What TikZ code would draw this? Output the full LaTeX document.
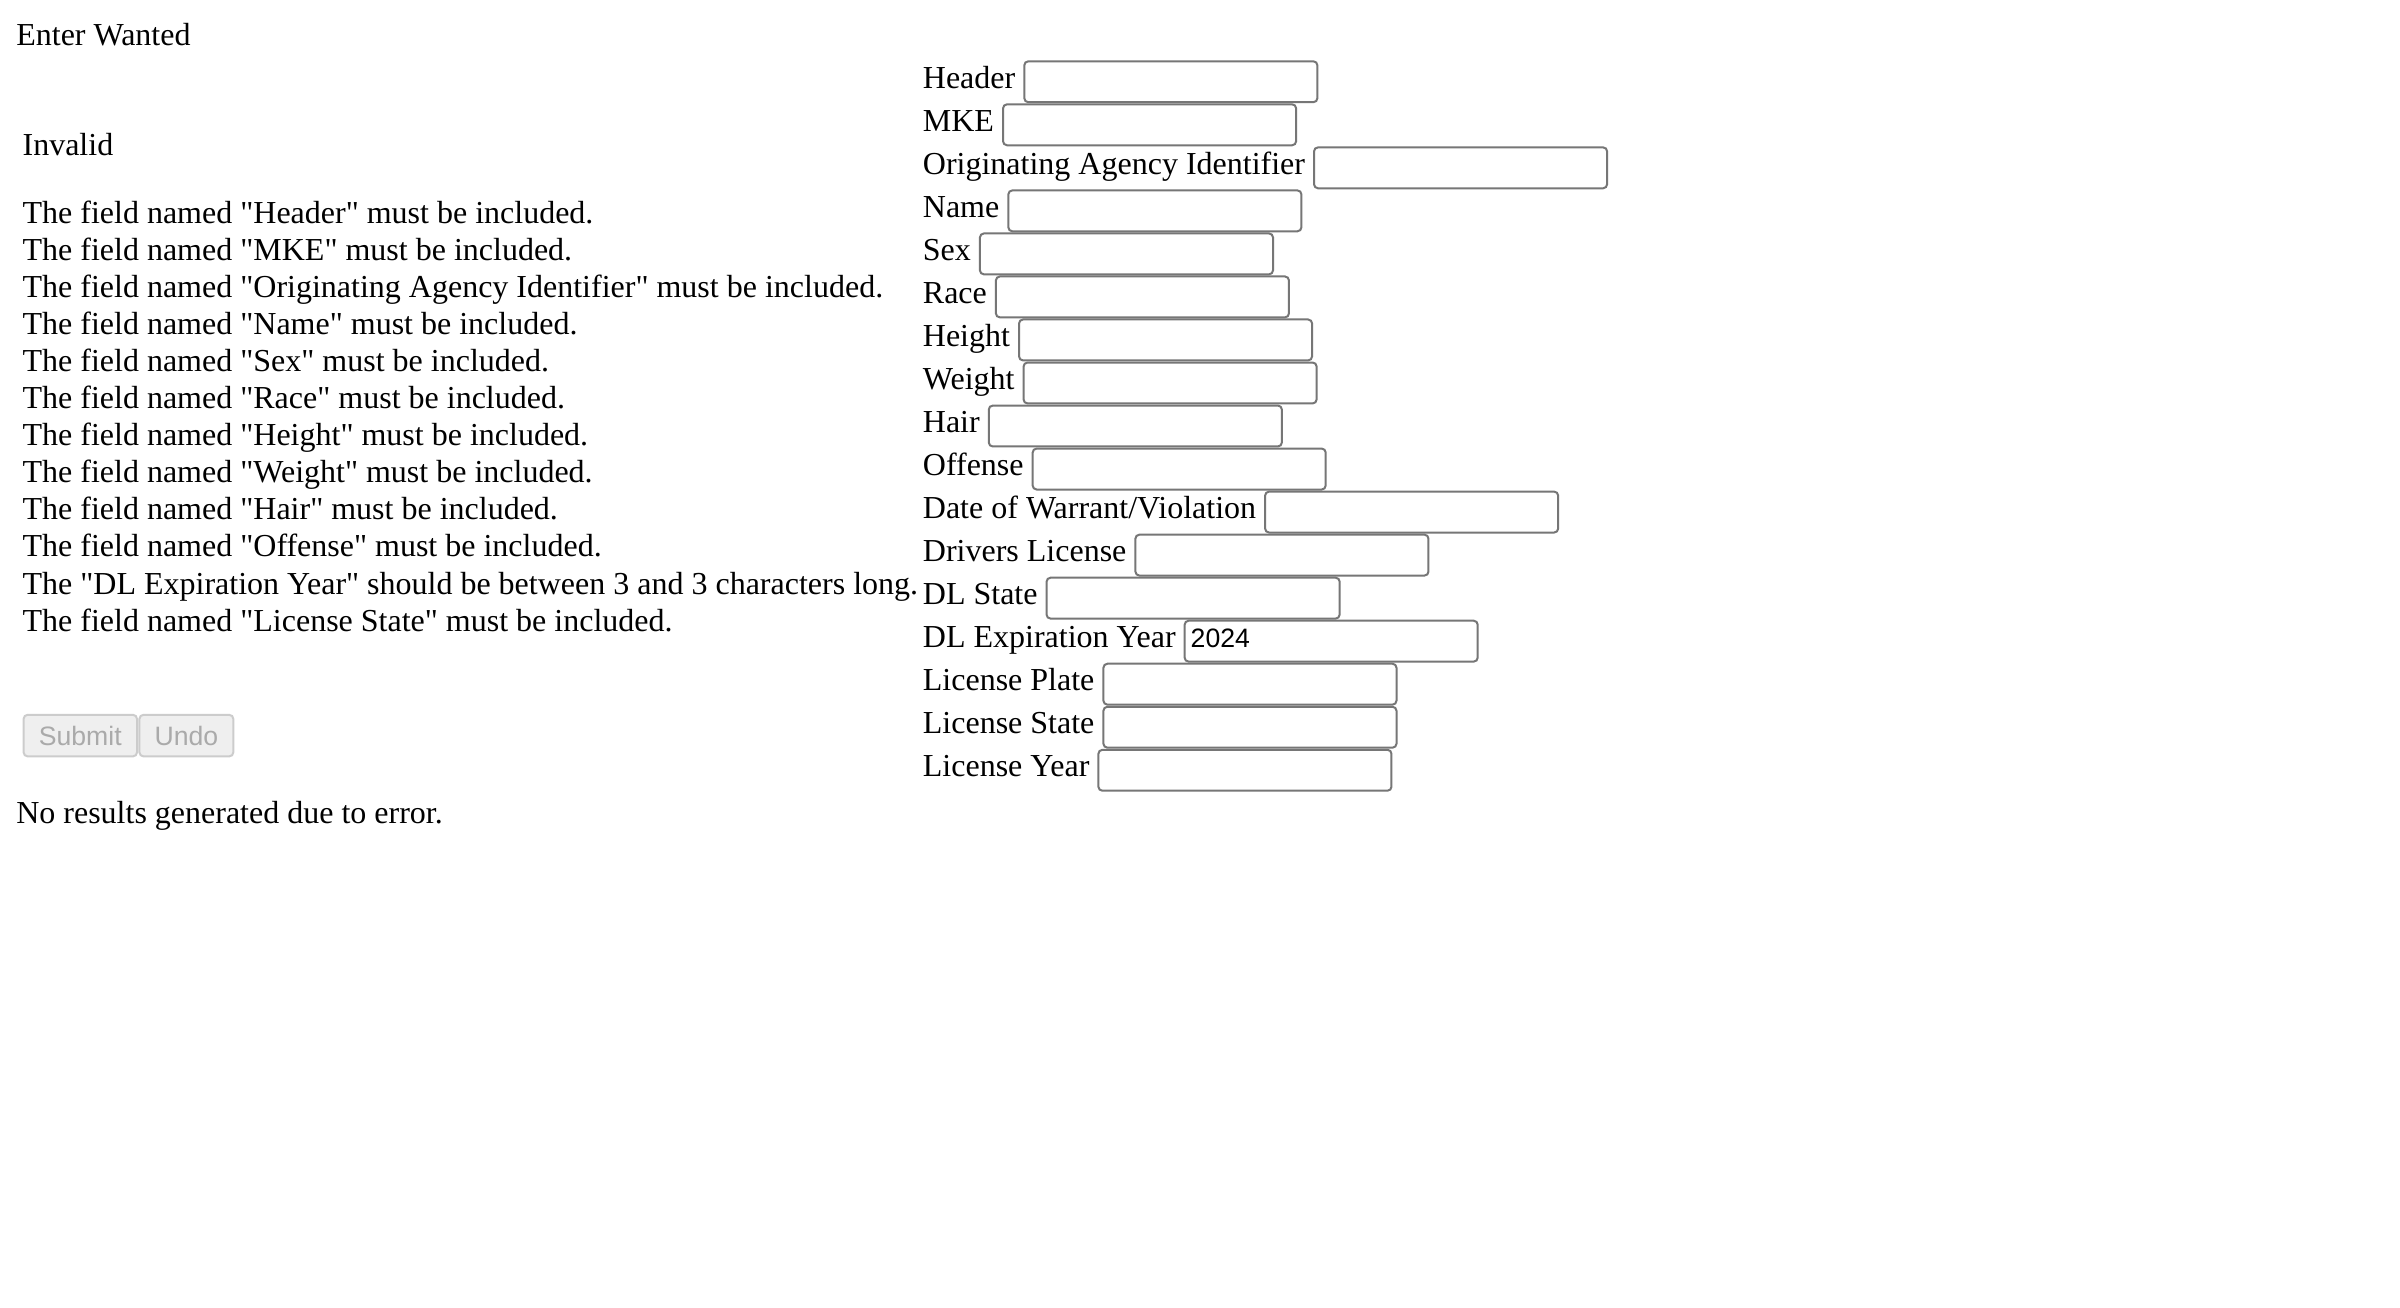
\documentclass[tikz,border=0pt]{standalone}
\usepackage{fontspec}
\setmainfont{Liberation Serif}[Ligatures=TeXOff]
\newfontfamily\uisans{Liberation Sans}[Ligatures=TeXOff]
\definecolor{boxline}{HTML}{767676}
\definecolor{btnfill}{HTML}{EFEFEF}
\definecolor{btnline}{HTML}{CCCCCC}
\definecolor{btntext}{HTML}{AAAAAA}
\tikzset{
  txt/.style={anchor=base west, inner sep=0pt, font=\fontsize{20.8}{24.2}\selectfont},
  field/.style={draw=boxline, line width=1.3pt, rounded corners=2.6pt, minimum width=190.5pt, minimum height=26.6pt, anchor=north west, inner sep=0pt},
  btn/.style={draw=btnline, fill=btnfill, line width=1.3pt, rounded corners=2.6pt, minimum height=27pt, anchor=north west, inner sep=0pt, text=btntext, font=\uisans\fontsize{17.3}{20}\selectfont},
  val/.style={anchor=base west, inner sep=0pt, font=\uisans\fontsize{17.3}{20}\selectfont}
}
\begin{document}
\begin{tikzpicture}[x=1pt,y=1pt]
\useasboundingbox[fill=white] (0,0) rectangle (1560,-850.2);
% left column
\node[txt] (title) at (10.4,-29.6) {Enter Wanted};
\node[txt] (invalid) at (14.5,-101.3) {Invalid};
\foreach \t [count=\i from 0] in {
  The field named "Header" must be included.,
  The field named "MKE" must be included.,
  The field named "Originating Agency Identifier" must be included.,
  The field named "Name" must be included.,
  The field named "Sex" must be included.,
  The field named "Race" must be included.,
  The field named "Height" must be included.,
  The field named "Weight" must be included.,
  The field named "Hair" must be included.,
  The field named "Offense" must be included.,
  The "DL Expiration Year" should be between 3 and 3 characters long.,
  The field named "License State" must be included.}
  \node[txt] (err\i) at (14.5,{-145.4-24.07*\i}) {\t};
\node[btn, minimum width=73.7pt] (submit) at (14.7,-464) {Submit};
\node[btn, minimum width=61pt] (undo) at (90,-464) {Undo};
\node[txt] (nores) at (10.4,-535.4) {No results generated due to error.};
% right column
\foreach \lab [count=\i from 0] in {
  Header, MKE, Originating Agency Identifier, Name, Sex,
  Race, Height, Weight, Hair, Offense,
  Date of Warrant\slash Violation, Drivers License, DL State,
  DL Expiration Year, License Plate, License State, License Year}
{
  \node[txt] (lab\i) at (599.7,{-57.3-27.97*\i}) {\lab};
  \node[field] (box\i) at ([xshift=5.0pt,yshift=18.1pt]lab\i.base east) {};
}
\node[val] (dlexp) at ([xshift=4.4pt,yshift=-18.2pt]box13.north west) {2024};
\end{tikzpicture}
\end{document}
